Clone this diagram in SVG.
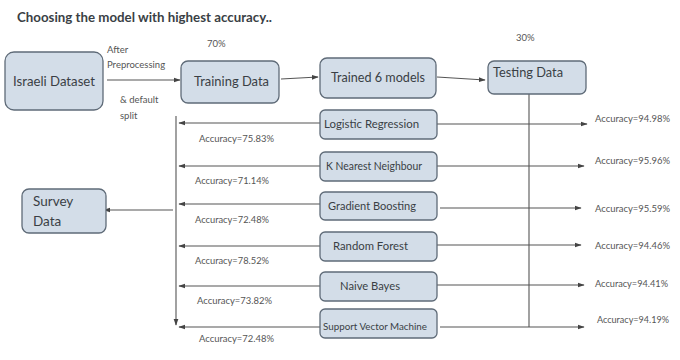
<svg xmlns="http://www.w3.org/2000/svg" width="680" height="360" viewBox="0 0 680 360">
<style>
.box{fill:#d3dde8;stroke:#5f6b78;stroke-width:1.3}
.t{font-family:Lato,"Open Sans",sans-serif;fill:#3a3f45}
.s{font-family:Lato,"Open Sans",sans-serif;fill:#555;font-size:9.5px}
.ln{stroke:#555;stroke-width:1.1;fill:none}
</style>
<defs>
<marker id="ah" viewBox="0 0 10 10" refX="9" refY="5" markerWidth="7" markerHeight="7" orient="auto" markerUnits="userSpaceOnUse">
<path d="M0,1.5 L10,5 L0,8.5 z" fill="#444"/>
</marker>
</defs>
<rect width="680" height="360" fill="#fff"/>
<text class="t" x="17" y="22" font-size="13.5" font-weight="bold" textLength="255" lengthAdjust="spacingAndGlyphs">Choosing the model with highest accuracy..</text>

<g id="connectors">
<line class="ln" x1="107" y1="80" x2="180" y2="80" marker-end="url(#ah)"/>
<line class="ln" x1="281" y1="79" x2="318" y2="77" marker-end="url(#ah)"/>
<line class="ln" x1="437" y1="77" x2="485" y2="80" marker-end="url(#ah)"/>
<line class="ln" x1="529" y1="88" x2="529" y2="327"/>
<line class="ln" x1="176" y1="116" x2="176" y2="325" marker-end="url(#ah)"/>
<line class="ln" x1="173" y1="210" x2="104" y2="210" marker-end="url(#ah)"/>
<line class="ln" x1="320" y1="123" x2="179" y2="123" marker-end="url(#ah)"/>
<line class="ln" x1="320" y1="166" x2="179" y2="166" marker-end="url(#ah)"/>
<line class="ln" x1="320" y1="204" x2="179" y2="204" marker-end="url(#ah)"/>
<line class="ln" x1="320" y1="246" x2="179" y2="246" marker-end="url(#ah)"/>
<line class="ln" x1="320" y1="286" x2="179" y2="286" marker-end="url(#ah)"/>
<line class="ln" x1="320" y1="327" x2="179" y2="327" marker-end="url(#ah)"/>
<line class="ln" x1="437" y1="124" x2="587" y2="124" marker-end="url(#ah)"/>
<line class="ln" x1="437" y1="166" x2="584" y2="166" marker-end="url(#ah)"/>
<line class="ln" x1="440" y1="208" x2="581" y2="208" marker-end="url(#ah)"/>
<line class="ln" x1="437" y1="245" x2="581" y2="245" marker-end="url(#ah)"/>
<line class="ln" x1="437" y1="285" x2="584" y2="285" marker-end="url(#ah)"/>
<line class="ln" x1="440" y1="327" x2="584" y2="327" marker-end="url(#ah)"/>
</g>

<text class="s" x="107" y="53">After</text>
<text class="s" x="107" y="68">Preprocessing</text>
<text class="s" x="120" y="103">&amp; default</text>
<text class="s" x="120" y="119">split</text>
<text class="s" x="207" y="47" font-size="10">70%</text>
<text class="s" x="516" y="41" font-size="10">30%</text>

<g id="israeli"><rect class="box" x="5" y="52" width="98" height="58" rx="9"/><text class="t" x="13" y="86" font-size="13.5" textLength="82" lengthAdjust="spacingAndGlyphs">Israeli Dataset</text></g>
<g id="training"><rect class="box" x="181" y="61" width="98" height="42" rx="7"/><text class="t" x="194" y="86" font-size="13.5" textLength="75" lengthAdjust="spacingAndGlyphs">Training Data</text></g>
<g id="trained"><rect class="box" x="320" y="58" width="116" height="40" rx="7"/><text class="t" x="331" y="82" font-size="13.5" textLength="94" lengthAdjust="spacingAndGlyphs">Trained 6 models</text></g>
<g id="testing"><rect class="box" x="488" y="61" width="98" height="33" rx="6"/><text class="t" x="493" y="77" font-size="13" textLength="70" lengthAdjust="spacingAndGlyphs">Testing Data</text></g>
<g id="survey"><rect class="box" x="22" y="189" width="84" height="44" rx="7"/><text class="t" x="33" y="206" font-size="13.5">Survey</text><text class="t" x="33" y="226" font-size="13.5">Data</text></g>

<g id="lr"><rect class="box" x="320" y="110" width="117" height="29" rx="5"/><text class="t" x="324" y="128" font-size="11" textLength="95" lengthAdjust="spacingAndGlyphs">Logistic Regression</text></g>
<g id="knn"><rect class="box" x="320" y="152" width="117" height="29" rx="5"/><text class="t" x="326" y="170" font-size="11" textLength="96" lengthAdjust="spacingAndGlyphs">K Nearest Neighbour</text></g>
<g id="gb"><rect class="box" x="320" y="192" width="117" height="28" rx="5"/><text class="t" x="328" y="210" font-size="11" textLength="88" lengthAdjust="spacingAndGlyphs">Gradient Boosting</text></g>
<g id="rf"><rect class="box" x="320" y="232" width="117" height="29" rx="5"/><text class="t" x="333" y="250" font-size="11" textLength="75" lengthAdjust="spacingAndGlyphs">Random Forest</text></g>
<g id="nb"><rect class="box" x="320" y="272" width="117" height="29" rx="5"/><text class="t" x="340" y="290" font-size="11" textLength="60" lengthAdjust="spacingAndGlyphs">Naive Bayes</text></g>
<g id="svm"><rect class="box" x="320" y="309" width="117" height="29" rx="5"/><text class="t" x="323" y="330" font-size="10" textLength="104" lengthAdjust="spacingAndGlyphs">Support Vector Machine</text></g>

<text class="s" x="199" y="142" textLength="75" lengthAdjust="spacingAndGlyphs">Accuracy=75.83%</text>
<text class="s" x="195" y="184" textLength="74" lengthAdjust="spacingAndGlyphs">Accuracy=71.14%</text>
<text class="s" x="195" y="223" textLength="74" lengthAdjust="spacingAndGlyphs">Accuracy=72.48%</text>
<text class="s" x="195" y="264" textLength="74" lengthAdjust="spacingAndGlyphs">Accuracy=78.52%</text>
<text class="s" x="197" y="304" textLength="75" lengthAdjust="spacingAndGlyphs">Accuracy=73.82%</text>
<text class="s" x="199" y="342" textLength="75" lengthAdjust="spacingAndGlyphs">Accuracy=72.48%</text>

<text class="s" x="595" y="122" textLength="75" lengthAdjust="spacingAndGlyphs">Accuracy=94.98%</text>
<text class="s" x="595" y="164" textLength="75" lengthAdjust="spacingAndGlyphs">Accuracy=95.96%</text>
<text class="s" x="595" y="212" textLength="75" lengthAdjust="spacingAndGlyphs">Accuracy=95.59%</text>
<text class="s" x="595" y="249" textLength="75" lengthAdjust="spacingAndGlyphs">Accuracy=94.46%</text>
<text class="s" x="595" y="287" textLength="73" lengthAdjust="spacingAndGlyphs">Accuracy=94.41%</text>
<text class="s" x="597" y="323" textLength="72" lengthAdjust="spacingAndGlyphs">Accuracy=94.19%</text>
</svg>
